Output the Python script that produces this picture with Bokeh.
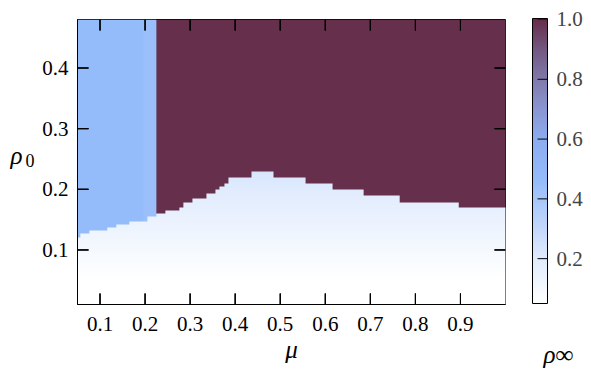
import numpy as np
from bokeh.plotting import figure
from bokeh.layouts import row
from bokeh.models import (LinearColorMapper, ColorBar, FixedTicker, PrintfTickFormatter, Range1d,
                          Arrow, ColumnDataSource, BoxAnnotation)
from bokeh.core.properties import value
from bokeh.embed import file_html
from bokeh.resources import INLINE

# ---- data ----
# mu grid (column centres, step 0.01)
mu = [round(0.05 + 0.01 * i, 2) for i in range(96)]
# critical rho0 (lowest rho0 of the upper region) per mu column
rho_c = ([0.120] + [0.128] * 2 + [0.132] * 4 + [0.137] * 2 + [0.143] * 3 + [0.148] * 4 +
         [0.156] * 2 + [0.160] * 2 + [0.166] * 3 + [0.171] + [0.178] * 2 + [0.186] * 3 +
         [0.193] * 2 + [0.199] + [0.206] + [0.211] + [0.219] * 5 + [0.229] * 5 +
         [0.219] * 7 + [0.209] * 6 + [0.200] * 7 + [0.190] * 8 + [0.178] * 13 + [0.170] * 11)
# rho_inf above the critical line per mu column
rho_inf_upper = [0.46] * 15 + [0.44] * 3 + [0.99] * 78
# rho0 grid (row edges)
rho0_low, rho0_high, rho0_step = 0.01, 0.48, 0.0025
mu_low, mu_high = 0.05, 1.0

x_ticks = [0.1, 0.2, 0.3, 0.4, 0.5, 0.6, 0.7, 0.8, 0.9]
y_ticks = [0.1, 0.2, 0.3, 0.4]
cb_ticks = [0.2, 0.4, 0.6, 0.8, 1.0]
cb_low, cb_high = 0.05, 1.0

# ---- table for the image ----
nrows = int(round((rho0_high - rho0_low) / rho0_step))
rho0 = rho0_low + rho0_step * (np.arange(nrows) + 0.5)
img = np.where(rho0[:, None] >= np.array(rho_c)[None, :], np.array(rho_inf_upper)[None, :],
               rho0[:, None])

# ---- palette ----
ctrl_v = [0.05, 0.2, 0.3, 0.46, 0.6, 0.7, 0.8, 0.9, 1.0]
ctrl_c = ["#ffffff", "#e0ebfd", "#c4d8fb", "#94bcfa", "#8cacf0", "#8a96d2",
          "#8079aa", "#735780", "#652c48"]
rgb = np.array([[int(c[i:i + 2], 16) for i in (1, 3, 5)] for c in ctrl_c], float)
pal = []
for v in np.linspace(cb_low, cb_high, 256):
    r, g, b = (np.interp(v, ctrl_v, rgb[:, k]) for k in range(3))
    pal.append("#%02x%02x%02x" % (int(round(r)), int(round(g)), int(round(b))))
mapper = LinearColorMapper(palette=pal, low=cb_low, high=cb_high)

FONT = "Liberation Serif"
FS = "21px"
H = 375
LEFT_W = 35
FRAME_L, FRAME_R, FRAME_T, FRAME_B = 77, 505, 19, 304
MAIN_R = FRAME_R + 5
CB_FRAME_L = 525
BAR_L, BAR_W, BAR_TOP, BAR_BOT = 532, 15, 19, 303
TICK = 11

# ---- main heat map ----
p = figure(width=MAIN_R - LEFT_W, height=H, x_range=Range1d(mu_low, mu_high),
           y_range=Range1d(rho0_low, rho0_high),
           output_backend="svg", toolbar_location=None,
           min_border_left=FRAME_L - LEFT_W, min_border_right=MAIN_R - FRAME_R,
           min_border_top=FRAME_T, min_border_bottom=H - FRAME_B)
p.image(image=[img], x=mu[0] - 0.005, y=rho0_low, dw=0.01 * len(mu), dh=rho0_high - rho0_low,
        color_mapper=mapper)

# inward ticks on all four sides
dx = TICK * (mu_high - mu_low) / (FRAME_R - FRAME_L)
dy = TICK * (rho0_high - rho0_low) / (FRAME_B - FRAME_T)
px_x = (mu_high - mu_low) / (FRAME_R - FRAME_L)
px_y = (rho0_high - rho0_low) / (FRAME_B - FRAME_T)
x0s, x1s, y0s, y1s = [], [], [], []
for t in x_ticks:
    x0s += [t, t]
    x1s += [t, t]
    y0s += [rho0_low, rho0_high]
    y1s += [rho0_low + dy, rho0_high - dy]
for t in y_ticks:
    x0s += [mu_low, mu_high]
    x1s += [mu_low + dx, mu_high - dx]
    y0s += [t, t]
    y1s += [t, t]
tick_src = ColumnDataSource(data=dict(x0=x0s, x1=x1s, y0=y0s, y1=y1s))
p.segment(x0="x0", x1="x1", y0="y0", y1="y1", source=tick_src,
          line_color="black", line_width=1)
p.add_layout(Arrow(end=None, x_start="x0", y_start="y0", x_end="x1", y_end="y1",
                   source=tick_src, line_color="black", line_width=1))
for a, b, c, d in zip(x0s, x1s, y0s, y1s):
    if a == b:
        p.add_layout(BoxAnnotation(left=a - px_x / 2, right=a + px_x / 2,
                                   bottom=min(c, d), top=max(c, d),
                                   fill_color="black", fill_alpha=1, line_color=None))
    else:
        p.add_layout(BoxAnnotation(left=min(a, b), right=max(a, b),
                                   bottom=c - px_y / 2, top=c + px_y / 2,
                                   fill_color="black", fill_alpha=1, line_color=None))

p.grid.visible = False
p.outline_line_color = "black"
for ax, ticks in ((p.xaxis[0], x_ticks), (p.yaxis[0], y_ticks)):
    ax.ticker = FixedTicker(ticks=list(ticks))
    ax.major_tick_in = 0
    ax.major_tick_out = 0
    ax.major_tick_line_color = None
    ax.minor_tick_line_color = None
    ax.axis_line_color = "black"
    ax.major_label_text_font = FONT
    ax.major_label_text_font_size = FS
    ax.major_label_text_color = "black"
p.xaxis[0].major_label_standoff = 12
p.yaxis[0].major_label_standoff = 9
p.xaxis[0].axis_label = "μ"
p.xaxis[0].axis_label_text_font = FONT
p.xaxis[0].axis_label_text_font_style = "italic"
p.xaxis[0].axis_label_text_font_size = "25px"
p.xaxis[0].axis_label_text_color = "black"
p.xaxis[0].axis_label_standoff = 2

# ---- left strip: y-axis title rho_0 ----
lf = figure(width=LEFT_W, height=H, x_range=Range1d(0, LEFT_W),
            y_range=Range1d(0, FRAME_B - FRAME_T),
            output_backend="svg", toolbar_location=None,
            min_border_left=0, min_border_right=0,
            min_border_top=FRAME_T, min_border_bottom=H - FRAME_B,
            x_axis_location=None, y_axis_location=None)
lf.grid.visible = False
lf.outline_line_color = None
lf.text(x=[10], y=[FRAME_B - 155], text=["ρ"], text_font=value(FONT), text_font_size="25px",
        text_font_style="italic", text_baseline="alphabetic", text_align="left",
        text_color="black")
lf.text(x=[25], y=[FRAME_B - 160], text=["0"], text_font=value(FONT), text_font_size="18px",
        text_baseline="alphabetic", text_align="left", text_color="black")

# ---- right strip: colour bar, its ticks and its title rho_inf ----
cf_w = 591 - MAIN_R
bar_px = (BAR_BOT - BAR_TOP)
cf_y0 = cb_low - (FRAME_B - BAR_BOT) * (cb_high - cb_low) / bar_px
cf = figure(width=cf_w, height=H, x_range=Range1d(0, 591 - CB_FRAME_L),
            y_range=Range1d(cf_y0, cb_high),
            output_backend="svg", toolbar_location=None,
            min_border_left=CB_FRAME_L - MAIN_R, min_border_right=0,
            min_border_top=FRAME_T, min_border_bottom=H - FRAME_B,
            x_axis_location="below", y_axis_location=None)
cf.grid.visible = False
cf.outline_line_color = None
cf.xaxis.ticker = FixedTicker(ticks=[])
cf.xaxis.axis_line_color = None
cf.xaxis.major_tick_line_color = None
cf.xaxis.minor_tick_line_color = None
cf.xaxis.axis_label = "ρ∞"
cf.xaxis.axis_label_text_font = FONT
cf.xaxis.axis_label_text_font_style = "italic"
cf.xaxis.axis_label_text_font_size = "25px"
cf.xaxis.axis_label_text_color = "black"
cf.xaxis.axis_label_standoff = 36

cb = ColorBar(color_mapper=mapper, ticker=FixedTicker(ticks=list(cb_ticks)),
              formatter=PrintfTickFormatter(format="%.1f"), width=BAR_W, height=bar_px + 1,
              location=(BAR_L - CB_FRAME_L, FRAME_B - BAR_BOT), margin=0, padding=0,
              major_tick_in=0, major_tick_out=0,
              major_tick_line_color=None, minor_tick_line_color=None,
              bar_line_color="black", major_label_text_font=FONT,
              major_label_text_font_size=FS, label_standoff=9,
              background_fill_alpha=0, border_line_color=None)
cf.add_layout(cb, "center")
bar_right = BAR_L - CB_FRAME_L + BAR_W
ncb = len(cb_ticks)
cb_src = ColumnDataSource(data=dict(x0=[bar_right - 10] * ncb, x1=[bar_right] * ncb,
                                    y0=list(cb_ticks), y1=list(cb_ticks)))
cf.add_layout(Arrow(end=None, x_start="x0", y_start="y0", x_end="x1", y_end="y1",
                    source=cb_src, line_color="black", line_width=1, level="overlay"))

layout = row(lf, p, cf, spacing=0)
open("out.html", "w").write(file_html(layout, INLINE))
